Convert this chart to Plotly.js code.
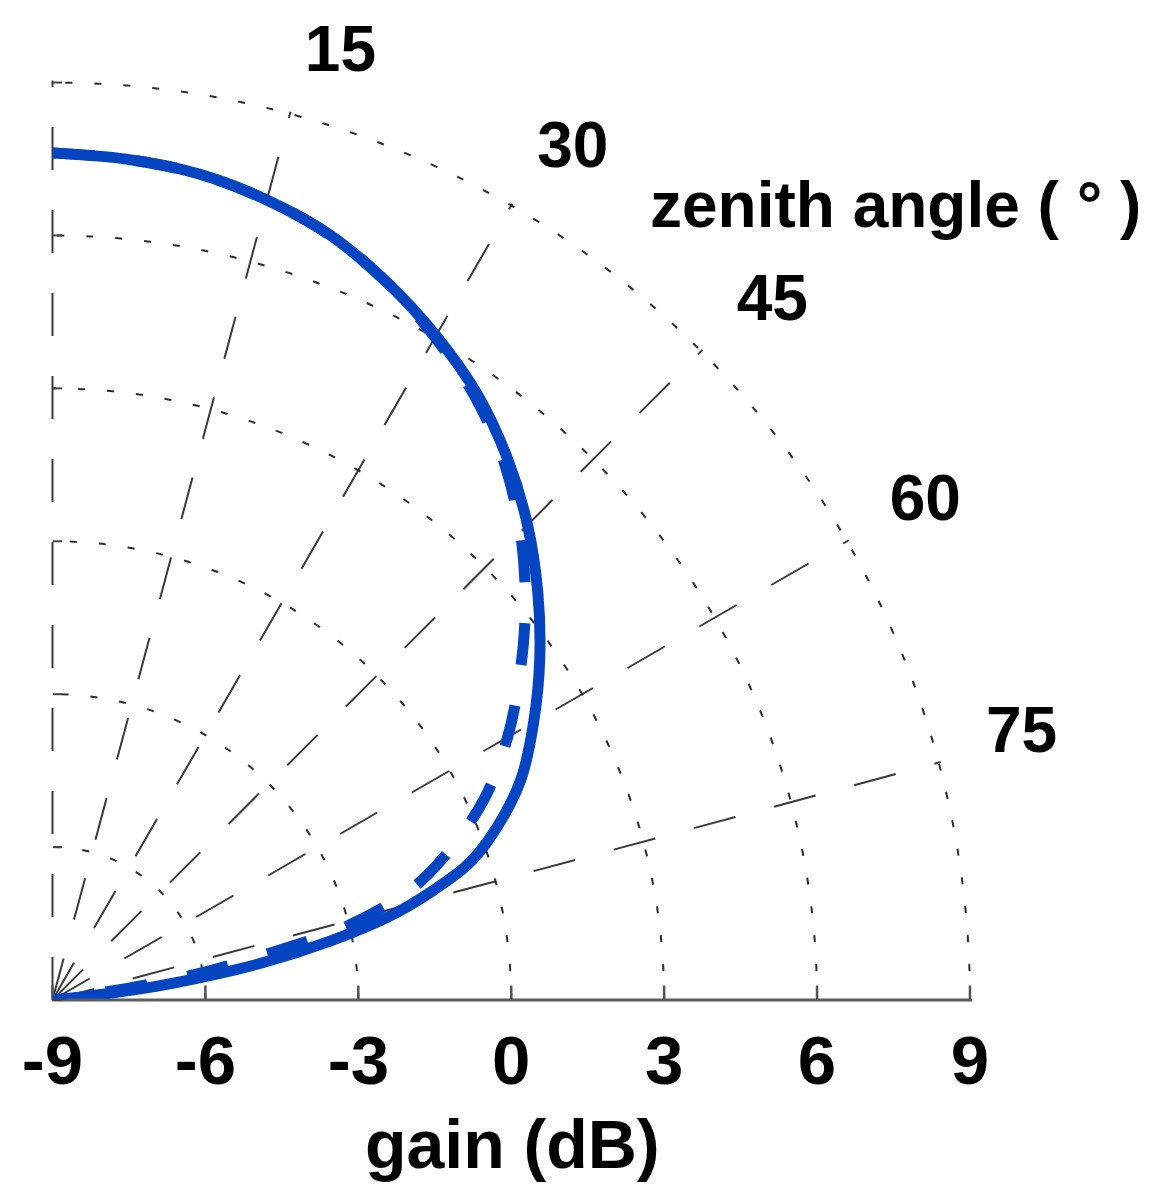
<!DOCTYPE html>
<html>
<head>
<meta charset="utf-8">
<script src="https://cdn.plot.ly/plotly-3.0.1.min.js"></script>
<style>
  html, body { margin: 0; padding: 0; background: #ffffff; }
  #chart { width: 1157px; height: 1202px; }
</style>
</head>
<body>
<div id="chart"></div>
<script>
// ---------------- data ----------------
// zenith angle (deg) and gain (dB) of the solid curve
const solidZenith = [0, 5, 10, 15, 20, 25, 30, 35, 40, 45, 50, 55, 60, 65, 70, 72, 74, 76, 78, 80, 82, 83, 84, 85, 90];
const solidGain   = [7.62, 7.56, 7.46, 7.25, 6.96, 6.53, 6.05, 5.52, 4.88, 4.18, 3.43, 2.67, 1.90, 1.12, 0.08, -0.45, -1.25, -2.16, -3.42, -4.85, -6.55, -7.5, -8.4, -9, -9];

// zenith angle (deg) and gain (dB) of the dashed curve
const dashedZenith = [0, 5, 10, 15, 20, 25, 30, 35, 40, 45, 50, 55, 60, 65, 70, 73, 76, 78, 80, 82, 83, 90];
const dashedGain   = [7.62, 7.56, 7.46, 7.25, 6.96, 6.53, 6.01, 5.45, 4.78, 3.98, 3.11, 2.2, 1.31, 0.35, -0.84, -1.7, -3.09, -4.8, -6.3, -8.3, -9, -9];

// axis ticks
const gainTicks      = [-9, -6, -3, 0, 3, 6, 9];
const gainTickText   = ['-9', '-6', '-3', '0', '3', '6', '9'];
const spokeAngles    = [0, 15, 30, 45, 60, 75, 90];
const angleLabels    = [15, 30, 45, 60, 75];
const angleLabelText = ['15', '30', '45', '60', '75'];

// ---------------- layout helpers ----------------
const W = 1157, H = 1202;
const ox = 52.5, oy = 1000;     // pixel position of the pole
const pxPerDb = 50.97;          // radial scale shared by all overlaid polar subplots
const rMin = -9, rMax = 9.04;
const labelR = 9.9, labelRange = 10.2;   // angle-label ring (its own subplot)
const labelShift = { x: 3, y: 17.4 };    // label ring nudge in pixels

function dom(r0, r1, sx, sy) {
  sx = sx || 0; sy = sy || 0;
  const R = (r1 - r0) * pxPerDb;
  const x0 = ox + sx, y0 = oy + sy;
  return { x: [x0 / W, (x0 + R) / W], y: [1 - y0 / H, 1 - (y0 - R) / H] };
}

const FONT = 'Liberation Sans, Arial, Helvetica, sans-serif';
const BLUE = '#0545c2';

const angularBase = { rotation: 90, direction: 'clockwise', thetaunit: 'degrees' };

const traces = [
  {
    type: 'scatterpolar', subplot: 'polar',
    theta: solidZenith, r: solidGain,
    mode: 'lines', cliponaxis: false,
    line: { color: BLUE, width: 11, shape: 'spline', smoothing: 1 },
    hoverinfo: 'skip'
  },
  {
    type: 'scatterpolar', subplot: 'polar3',
    theta: dashedZenith, r: dashedGain,
    mode: 'lines', cliponaxis: false,
    line: { color: BLUE, width: 11, dash: '42px,41px', shape: 'spline', smoothing: 1 },
    hoverinfo: 'skip'
  },
  {
    type: 'scatterpolar', subplot: 'polar2',
    theta: angleLabels, r: angleLabels.map(() => labelR),
    text: angleLabelText,
    mode: 'text', cliponaxis: false,
    textposition: 'top right',
    textfont: { family: FONT, size: 64, weight: 'bold', color: '#000' },
    hoverinfo: 'skip'
  }
];

const layout = {
  width: W, height: H,
  margin: { l: 0, r: 0, t: 0, b: 0 },
  paper_bgcolor: '#ffffff',
  showlegend: false,
  polar: {
    domain: dom(rMin, rMax),
    sector: [0, 90],
    bgcolor: 'rgba(0,0,0,0)',
    radialaxis: {
      range: [rMin, rMax], angle: 0, side: 'clockwise',
      tickmode: 'array', tickvals: gainTicks, ticktext: gainTickText,
      ticks: 'inside', ticklen: 13, tickwidth: 2.5, tickcolor: '#555',
      tickfont: { family: FONT, size: 69, weight: 'bold', color: '#000' },
      showline: true, linecolor: '#5c5c5c', linewidth: 3,
      showgrid: true, gridcolor: '#2b2b2b', gridwidth: 2, griddash: '7px,22px',
      title: { text: 'gain (dB)', font: { family: FONT, size: 68, weight: 'bold', color: '#000' } }
    },
    angularaxis: Object.assign({}, angularBase, {
      tickmode: 'array', tickvals: spokeAngles,
      showticklabels: false, ticks: '',
      showline: false,
      showgrid: true, gridcolor: '#3a3a3a', gridwidth: 2, griddash: '43px,40px'
    })
  },
  polar2: {
    domain: dom(rMin, labelRange, labelShift.x, labelShift.y),
    sector: [0, 90],
    bgcolor: 'rgba(0,0,0,0)',
    radialaxis: { range: [rMin, labelRange], visible: false },
    angularaxis: Object.assign({}, angularBase, { visible: false })
  },
  polar3: {
    domain: dom(rMin, rMax),
    sector: [0, 90],
    bgcolor: 'rgba(0,0,0,0)',
    radialaxis: {
      range: [rMin, rMax], angle: 90, side: 'clockwise',
      tickmode: 'array', tickvals: gainTicks,
      ticks: 'outside', ticklen: 9, tickwidth: 2, tickcolor: '#444',
      showticklabels: false, showline: false, showgrid: false
    },
    angularaxis: Object.assign({}, angularBase, { visible: false })
  },
  annotations: [
    {
      text: 'zenith angle ( ° )',
      xref: 'paper', yref: 'paper',
      x: 895 / W, y: 1 - 205 / H,
      xanchor: 'center', yanchor: 'middle',
      showarrow: false,
      font: { family: FONT, size: 64, weight: 'bold', color: '#000' }
    }
  ]
};

Plotly.newPlot('chart', traces, layout, { staticPlot: true, displayModeBar: false });
</script>
</body>
</html>
